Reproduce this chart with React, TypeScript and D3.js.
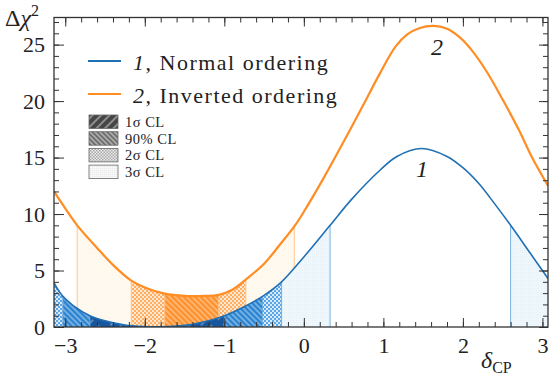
import React, { useEffect, useRef } from "react";
import * as d3 from "d3";

// Normal ordering (curve 1)
const normalDelta = [-3.1416, -3.03, -2.9, -2.69, -2.5, -2.25, -2.0, -1.85, -1.6, -1.4, -1.2, -1.0, -0.75, -0.52, -0.28, 0.0, 0.33, 0.6, 0.96, 1.17, 1.48, 1.8, 2.0, 2.2, 2.4, 2.6, 2.85, 3.07];
const normalChi2 = [3.9, 2.71, 1.9, 1.0, 0.55, 0.18, 0.04, 0.02, 0.08, 0.25, 0.55, 1.0, 1.8, 2.71, 4.0, 6.2, 9.0, 11.3, 13.9, 15.1, 15.8, 15.1, 14.1, 12.7, 10.9, 9.0, 6.5, 4.3];

// Inverted ordering (curve 2)
const invertedDelta = [-3.1416, -3.0, -2.85, -2.6, -2.4, -2.17, -2.0, -1.75, -1.5, -1.25, -1.07, -0.9, -0.73, -0.5, -0.3, -0.12, 0.0, 0.25, 0.5, 0.75, 0.96, 1.15, 1.3, 1.45, 1.63, 1.8, 1.95, 2.1, 2.3, 2.51, 2.7, 2.87, 3.07];
const invertedChi2 = [12.0, 10.5, 9.0, 7.0, 5.5, 4.1, 3.5, 2.95, 2.75, 2.75, 2.85, 3.3, 4.2, 5.6, 7.3, 8.9, 10.2, 13.2, 16.4, 19.7, 22.5, 24.8, 25.9, 26.45, 26.65, 26.4, 25.7, 24.6, 22.6, 20.0, 17.5, 15.0, 12.5];

// allowed ranges of delta_CP per confidence level
const normalBands: [number, number, string][] = [
  [-3.1416, -3.03, "2s"], [-3.03, -2.69, "90"], [-2.69, -1.0, "1s"], [-1.0, -0.52, "90"],
  [-0.52, -0.28, "2s"], [-0.28, 0.33, "3s"], [2.6, 3.07, "3s"],
];
const invertedBands: [number, number, string][] = [
  [-2.85, -2.17, "3s"], [-2.17, -1.75, "2s"], [-1.75, -1.07, "90"], [-1.07, -0.73, "2s"], [-0.73, -0.12, "3s"],
];

const xMajor = [-3, -2, -1, 0, 1, 2, 3];
const yMajor = [0, 5, 10, 15, 20, 25];
const seriesLabels = ["Normal ordering", "Inverted ordering"];
const seriesNums = ["1", "2"];
const clLabels = ["1σ CL", "90% CL", "2σ CL", "3σ CL"];
const clKeys = ["1s", "90", "2s", "3s"];

const BLUE = "#2070b4";
const ORANGE = "#ff8d24";
const FONT = "Liberation Serif, DejaVu Serif, serif";

function stripes(defs: any, id: string, bg: string, fg: string, gap: number, w: number, angle: number, dashed = false) {
  const h = dashed ? gap * 2 : gap;
  const p = defs.append("pattern").attr("id", id).attr("patternUnits", "userSpaceOnUse")
    .attr("width", gap).attr("height", h).attr("patternTransform", `rotate(${angle})`);
  p.append("rect").attr("width", gap).attr("height", h).attr("fill", bg);
  p.append("line").attr("x1", gap / 2).attr("x2", gap / 2).attr("y1", 0).attr("y2", dashed ? gap : h)
    .attr("stroke", fg).attr("stroke-width", w);
}

function checker(defs: any, id: string, bg: string, fg: string, s: number) {
  const p = defs.append("pattern").attr("id", id).attr("patternUnits", "userSpaceOnUse")
    .attr("width", s * 2).attr("height", s * 2);
  p.append("rect").attr("width", s * 2).attr("height", s * 2).attr("fill", bg);
  p.append("rect").attr("width", s).attr("height", s).attr("fill", fg);
  p.append("rect").attr("x", s).attr("y", s).attr("width", s).attr("height", s).attr("fill", fg);
}

function grid(defs: any, id: string, bg: string, fg: string, s: number) {
  const p = defs.append("pattern").attr("id", id).attr("patternUnits", "userSpaceOnUse")
    .attr("width", s).attr("height", s);
  p.append("rect").attr("width", s).attr("height", s).attr("fill", bg);
  p.append("path").attr("d", `M0,0.25H${s}M0.25,0V${s}`).attr("stroke", fg).attr("stroke-width", 0.5);
}

export default function App() {
  const ref = useRef<SVGSVGElement>(null);

  useEffect(() => {
    const svg = d3.select(ref.current);
    svg.selectAll("*").remove();
    svg.style("font-family", FONT);

    const left = 54, right = 548, top = 17.5, bottom = 327;
    const x = d3.scaleLinear().domain([-Math.PI, 3.07]).range([left, right]);
    const y = d3.scaleLinear().domain([0, 27.4]).range([bottom, top]);

    const defs = svg.append("defs");
    // blue patterns
    stripes(defs, "normal-1s", "#17569c", "rgba(255,255,255,0.65)", 8, 0.9, 45, true);
    stripes(defs, "normal-90", "#2a82cf", "#8fc3ee", 4, 1.4, -45);
    checker(defs, "normal-2s", "#d7eafa", "#5aa6e6", 2);
    grid(defs, "normal-3s", "#f4f9fd", "#e3eff8", 2);
    // orange patterns
    stripes(defs, "inverted-90", "#ff8f2a", "#ffc48e", 4, 1.4, -45);
    checker(defs, "inverted-2s", "#ffe7d0", "#ffae62", 2);
    grid(defs, "inverted-3s", "#fffcf6", "#fdf3e4", 2);
    // gray legend patterns
    stripes(defs, "gray-1s", "#454545", "rgba(255,255,255,0.8)", 6, 1, 45);
    stripes(defs, "gray-90", "#6e6e6e", "#c8c8c8", 3.5, 1.2, -45);
    checker(defs, "gray-2s", "#ececec", "#a8a8a8", 1.5);
    grid(defs, "gray-3s", "#fbfbfb", "#e4e4e4", 2);

    defs.append("clipPath").attr("id", "plot-clip").append("rect")
      .attr("x", left).attr("y", top).attr("width", right - left).attr("height", bottom - top);

    const curve = d3.curveCatmullRom.alpha(0.5);
    const area = d3.area<[number, number]>().x(d => x(d[0])).y0(y(0)).y1(d => y(d[1])).curve(curve);
    const line = d3.line<[number, number]>().x(d => x(d[0])).y(d => y(d[1])).curve(curve);

    const series = [
      { name: "inverted", pts: d3.zip(invertedDelta, invertedChi2) as [number, number][], bands: invertedBands, color: ORANGE, edge: "#ffbf85" },
      { name: "normal", pts: d3.zip(normalDelta, normalChi2) as [number, number][], bands: normalBands, color: BLUE, edge: "#6aa7da" },
    ];

    const plot = svg.append("g").attr("clip-path", "url(#plot-clip)");

    series.forEach(s => {
      defs.append("clipPath").attr("id", `under-${s.name}`).append("path").attr("d", area(s.pts));
      s.bands.forEach(([lo, hi, lvl], i) => {
        const cid = `band-${s.name}-${i}`;
        defs.append("clipPath").attr("id", cid).append("rect")
          .attr("x", x(lo)).attr("y", top).attr("width", x(hi) - x(lo)).attr("height", bottom - top);
        plot.append("path").attr("d", area(s.pts)).attr("fill", `url(#${s.name}-${lvl})`).attr("clip-path", `url(#${cid})`);
      });
      const edges = Array.from(new Set(s.bands.flatMap(b => [b[0], b[1]]))).filter(e => e > -3.1 && e < 3.05);
      plot.append("g").attr("clip-path", `url(#under-${s.name})`)
        .selectAll("line").data(edges).join("line")
        .attr("x1", d => x(d)).attr("x2", d => x(d)).attr("y1", bottom).attr("y2", top)
        .attr("stroke", s.edge).attr("stroke-width", 0.9);
    });

    series.forEach(s => {
      plot.append("path").attr("d", line(s.pts)).attr("fill", "none")
        .attr("stroke", s.color).attr("stroke-width", s.name === "inverted" ? 2.2 : 1.6);
    });

    // axes: ticks pointing inward on all four sides
    const fmt = (d: any) => (d < 0 ? "\u2212" + Math.abs(d) : String(d));
    const xMinor = d3.range(-3.2, 3.1, 0.2).map(v => +v.toFixed(1)).filter(v => x(v) >= left);
    const yMinor = d3.range(0, 28, 1);
    const axes = svg.append("g");
    const put = (ax: any, tr: string, labels: boolean) => {
      const g = axes.append("g").attr("transform", tr).call(ax);
      g.attr("font-family", FONT);
      g.select(".domain").remove();
      g.selectAll("line").attr("stroke", "#333").attr("stroke-width", 1);
      g.selectAll("text").attr("font-family", FONT).attr("font-size", 22).attr("fill", "#222");
      if (!labels) g.selectAll("text").remove();
    };
    put(d3.axisBottom(x).tickValues(xMinor).tickSize(-5), `translate(0,${bottom})`, false);
    put(d3.axisBottom(x).tickValues(xMajor).tickSize(-9).tickPadding(10).tickFormat(fmt), `translate(0,${bottom})`, true);
    put(d3.axisTop(x).tickValues(xMinor).tickSize(-5), `translate(0,${top})`, false);
    put(d3.axisTop(x).tickValues(xMajor).tickSize(-9), `translate(0,${top})`, false);
    put(d3.axisLeft(y).tickValues(yMinor).tickSize(-5), `translate(${left},0)`, false);
    put(d3.axisLeft(y).tickValues(yMajor).tickSize(-10).tickPadding(9).tickFormat(fmt), `translate(${left},0)`, true);
    put(d3.axisRight(y).tickValues(yMinor).tickSize(-5), `translate(${right},0)`, false);
    put(d3.axisRight(y).tickValues(yMajor).tickSize(-9), `translate(${right},0)`, false);

    svg.append("rect").attr("x", left).attr("y", top).attr("width", right - left).attr("height", bottom - top)
      .attr("fill", "none").attr("stroke", "#333").attr("stroke-width", 1.3);

    // axis titles
    const yt = svg.append("text").attr("x", 5).attr("y", 26).attr("font-size", 24).attr("fill", "#222");
    yt.append("tspan").text("Δ");
    yt.append("tspan").attr("font-style", "italic").text("χ");
    yt.append("tspan").attr("dy", -10).attr("font-size", 16).text("2");
    const xt = svg.append("text").attr("x", 481).attr("y", 368).attr("font-size", 24).attr("fill", "#222");
    xt.append("tspan").attr("font-style", "italic").text("δ");
    xt.append("tspan").attr("dy", 5).attr("font-size", 16).text("CP");

    // curve numbers
    svg.append("text").attr("x", 422).attr("y", 177).attr("text-anchor", "middle")
      .attr("font-size", 24).attr("font-style", "italic").attr("fill", "#222").text(seriesNums[0]);
    svg.append("text").attr("x", 437).attr("y", 55).attr("text-anchor", "middle")
      .attr("font-size", 24).attr("font-style", "italic").attr("fill", "#222").text(seriesNums[1]);

    // legend: orderings
    const colors = [BLUE, ORANGE];
    seriesLabels.forEach((lab, i) => {
      const ly = 61 + i * 33;
      svg.append("line").attr("x1", 88).attr("x2", 121).attr("y1", ly).attr("y2", ly)
        .attr("stroke", colors[i]).attr("stroke-width", 2);
      const t = svg.append("text").attr("x", 133).attr("y", ly + 9).attr("font-size", 22)
        .attr("letter-spacing", 1.5).attr("fill", "#222");
      t.append("tspan").attr("font-style", "italic").text(seriesNums[i]);
      t.append("tspan").text(", " + lab);
    });

    // legend: confidence levels
    clLabels.forEach((lab, i) => {
      const by = 115 + i * 16.7;
      svg.append("rect").attr("x", 89).attr("y", by).attr("width", 29).attr("height", 13.5)
        .attr("fill", `url(#gray-${clKeys[i]})`).attr("stroke", "#666").attr("stroke-width", 0.8);
      svg.append("text").attr("x", 125).attr("y", by + 12).attr("font-size", 14.5)
        .attr("letter-spacing", 0.5).attr("fill", "#222").text(lab);
    });
  }, []);

  return <svg ref={ref} width={550} height={376} style={{ position: "absolute", left: 0, top: 0, background: "#fff" }} />;
}
